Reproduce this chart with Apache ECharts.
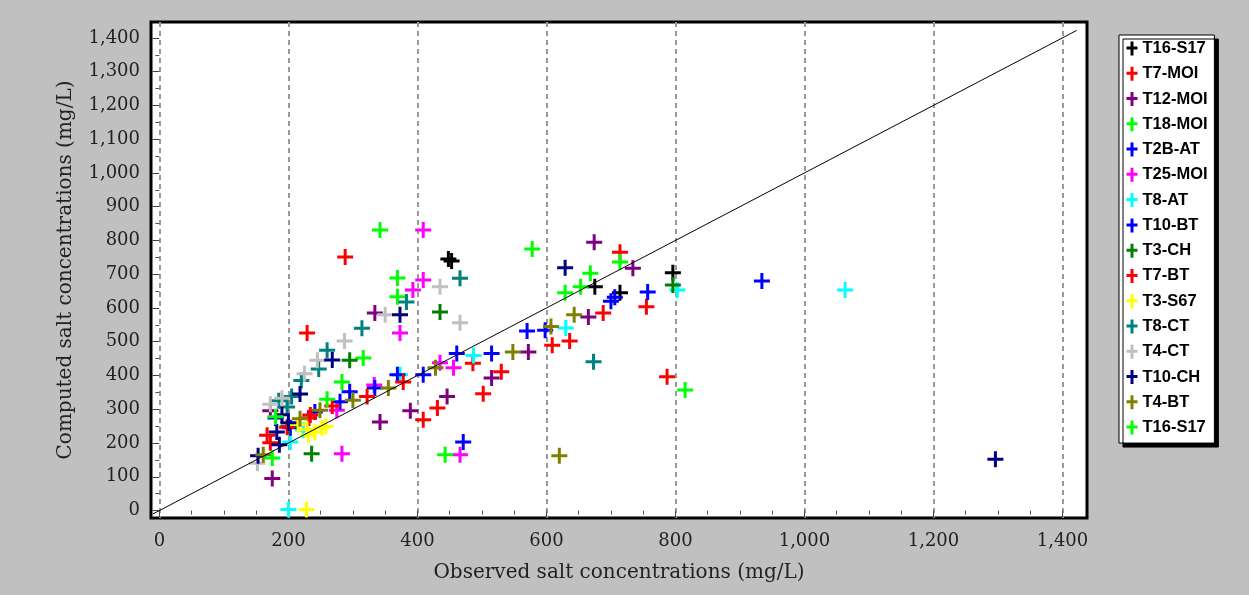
<!DOCTYPE html>
<html><head><meta charset="utf-8">
<script src="https://cdn.jsdelivr.net/npm/echarts@6/dist/echarts.min.js"></script>
<style>html,body{margin:0;padding:0;background:#c0c0c0}#c{width:1249px;height:595px}</style>
</head><body><div id="c"></div>
<script>
// ---- data ----
const seriesNames = ['T16-S17','T7-MOI','T12-MOI','T18-MOI','T2B-AT','T25-MOI','T8-AT','T10-BT','T3-CH','T7-BT','T3-S67','T8-CT','T4-CT','T10-CH','T4-BT','T16-S17 '];
const seriesColors = ['#000000','#ff0000','#800080','#00ff00','#0000ff','#ff00ff','#00ffff','#0000ff','#008000','#ff0000','#ffff00','#008080','#c0c0c0','#000080','#808000','#00ff00'];

const T16_S17_a = [[448,745],[453,739],[675,663],[714,645],[796,704]];
const T7_MOI = [[288,751],[714,765],[755,604],[787,396],[609,490],[636,502],[688,585],[530,411],[502,346],[486,436]];
const T12_MOI = [[674,795],[734,718],[665,573],[572,470],[515,393],[446,338],[389,296],[342,262],[334,585],[172,296],[175,95]];
const T18_MOI = [[342,831],[578,775],[714,736],[668,703],[653,663],[629,645],[369,689],[369,633],[316,452]];
const T2B_AT = [[934,680],[757,647],[700,620],[706,632],[598,534],[570,532],[515,465],[471,203]];
const T25_MOI = [[409,831],[409,683],[393,653],[373,526],[456,423],[435,438],[466,165],[283,168],[333,372],[275,297]];
const T8_AT = [[1063,653],[803,653],[630,541],[487,459],[373,402],[200,3],[203,203],[223,238]];
const T10_BT = [[461,465],[409,402],[369,402],[334,363],[295,352],[280,322],[241,292],[203,245],[180,274]];
const T3_CH = [[435,588],[295,445],[236,168],[796,668],[200,250]];
const T7_BT = [[229,526],[431,304],[409,269],[378,381],[322,338],[268,310],[234,283],[198,247],[167,223],[172,201],[232,274]];
const T3_S67 = [[228,3],[231,224],[241,233],[252,245],[229,240],[215,255],[258,250]];
const T8_CT = [[466,688],[383,618],[314,540],[260,475],[247,419],[220,385],[205,338],[198,307],[673,441],[185,325]];
const T4_CT = [[435,663],[466,556],[350,580],[287,502],[245,445],[225,405],[190,333],[172,315],[152,140]];
const T10_CH = [[1296,152],[629,719],[373,580],[268,446],[218,345],[190,284],[182,233],[186,195],[153,162],[200,260]];
const T4_BT = [[620,162],[643,580],[607,545],[548,470],[428,423],[355,363],[300,327],[249,297],[218,272],[161,165]];
const T16_S17_b = [[815,357],[283,381],[260,330],[443,165],[180,278],[175,156]];

const seriesData = [T16_S17_a,T7_MOI,T12_MOI,T18_MOI,T2B_AT,T25_MOI,T8_AT,T10_BT,T3_CH,T7_BT,T3_S67,T8_CT,T4_CT,T10_CH,T4_BT,T16_S17_b];

const oneToOneLine = [[-10,-10],[1422,1422]];
const xTicks = [0,200,400,600,800,1000,1200,1400];
const xMinorTicks = [50,100,150,250,300,350,450,500,550,650,700,750,850,900,950,1050,1100,1150,1250,1300,1350];
const yTicks = [0,100,200,300,400,500,600,700,800,900,1000,1100,1200,1300,1400];
const yMinorTicks = [50,150,250,350,450,550,650,750,850,950,1050,1150,1250,1350];
const xTitle = 'Observed salt concentrations (mg/L)';
const yTitle = 'Computed salt concentrations (mg/L)';

// ---- chart ----
const fmt = v => Math.round(v).toString().replace(/\B(?=(\d{3})+(?!\d))/g, ',');
const cross = 'path://M0,6.5H16V9.5H0Z M6.5,0H9.5V16H6.5Z';
const legendCross = 'path://M0,5H11V8H0Z M4,0H7V14H4Z';
const serif = 'DejaVu Serif';
const XMIN = -13, XMAX = 1438, YMIN = -22, YMAX = 1447;

const series = seriesNames.map((n, i) => ({
  name: n, type: 'scatter', data: seriesData[i],
  symbol: cross, symbolSize: [16,16],
  itemStyle: { color: seriesColors[i], opacity: 1 },
  emphasis: { disabled: true }, z: 3
}));
series.push({
  type: 'line', data: oneToOneLine, symbol: 'none', silent: true, z: 5,
  lineStyle: { color: '#000', width: 1 }, clip: false
});

const chart = echarts.init(document.getElementById('c'), null, { renderer: 'canvas' });
chart.setOption({
  backgroundColor: '#c0c0c0',
  animation: false,
  grid: { left: 151, right: 162, top: 22, bottom: 77, show: true, backgroundColor: '#fff', borderColor: '#000', borderWidth: 3 },
  legend: {
    orient: 'vertical', left: 1119, top: 35,
    padding: [5, 4, 7, 7.5], itemGap: 8.27, itemWidth: 11, itemHeight: 14,
    backgroundColor: '#fff', borderColor: '#000', borderWidth: 1,
    shadowColor: '#000', shadowBlur: 0, shadowOffsetX: 4, shadowOffsetY: 4,
    icon: legendCross,
    data: seriesNames,
    textStyle: { fontFamily: 'Liberation Sans', fontWeight: 'bold', fontSize: 16.5, color: '#000', lineHeight: 14 }
  },
  xAxis: [{
    type: 'value', min: XMIN, max: XMAX,
    axisLine: { show: false },
    axisTick: { show: true, customValues: xTicks, length: 7, lineStyle: { color: '#444' } },
    axisLabel: { customValues: xTicks, formatter: fmt, margin: 14, fontFamily: serif, fontSize: 18, color: '#222' },
    splitLine: { show: true, lineStyle: { type: [5,4], color: '#9a9a9a', width: 2 } },
    name: xTitle, nameLocation: 'middle', nameGap: 45,
    nameTextStyle: { fontFamily: serif, fontSize: 20, color: '#222' }
  }, {
    type: 'value', min: XMIN, max: XMAX, position: 'bottom',
    axisLine: { show: false },
    axisTick: { show: true, customValues: xMinorTicks, length: 4, lineStyle: { color: '#555' } },
    axisLabel: { show: false }, splitLine: { show: false }
  }],
  yAxis: [{
    type: 'value', min: YMIN, max: YMAX,
    axisLine: { show: false },
    axisTick: { show: true, customValues: yTicks, length: 7, lineStyle: { color: '#444' } },
    axisLabel: { customValues: yTicks, formatter: fmt, margin: 11, fontFamily: serif, fontSize: 18, color: '#222' },
    splitLine: { show: false },
    name: yTitle, nameLocation: 'middle', nameGap: 75, nameRotate: 90,
    nameTextStyle: { fontFamily: serif, fontSize: 20, color: '#222' }
  }, {
    type: 'value', min: YMIN, max: YMAX, position: 'left',
    axisLine: { show: false },
    axisTick: { show: true, customValues: yMinorTicks, length: 4, lineStyle: { color: '#555' } },
    axisLabel: { show: false }, splitLine: { show: false }
  }],
  series: series
});
</script></body></html>
